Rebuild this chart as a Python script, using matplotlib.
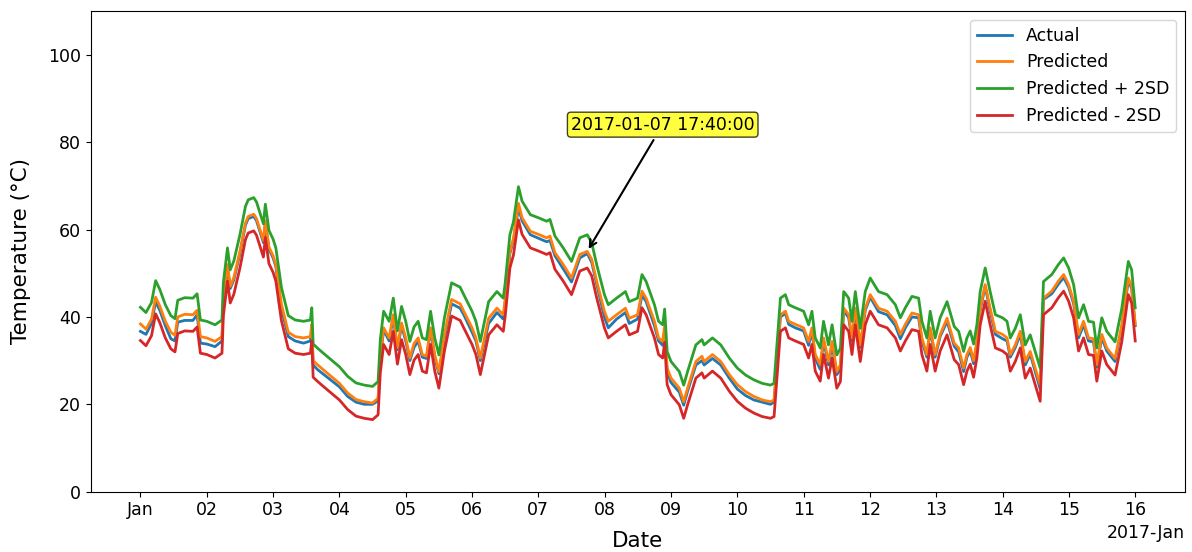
import pandas as pd
import matplotlib
matplotlib.use('Agg')
import matplotlib.pyplot as plt
import matplotlib.dates as mdates

# hours since 2017-01-01 00:00 at each reading
hours = [
    0, 2, 4, 5.5, 7, 9, 11, 12.5, 13.5, 16, 19, 20.5, 21.7,
    24, 27, 29.5, 30, 31.5, 32.5, 33.8, 36, 38, 39, 41, 42, 44.5, 45.2, 46.5,
    48, 49, 51, 53.5, 56, 59, 61.5, 62, 62.5, 64, 66, 69,
    72, 75, 78, 81, 84, 86, 86.8, 88, 90, 91.5, 93, 94.5,
    96, 97.5, 99, 100.5, 102, 103.5, 105, 106.5, 108, 110, 112.6, 115.7, 117,
    120, 121.4, 123, 126, 129, 131.3, 132, 133.7, 135, 136.8, 138.1, 141.1,
    144, 147, 148.2, 150, 153, 156, 159, 161.7, 163.3, 165.1, 167.9,
    169.3, 172.3, 175.5, 176.9, 179.9, 181.5, 183, 186, 187.5, 189, 189.7, 190.6,
    192, 195, 196.6, 198, 201, 203.2, 204, 207, 210, 213.1,
    216, 219, 222, 225, 228, 229.3, 231.6, 233.4, 234.6, 237,
    240, 241.8, 243, 244.2, 246, 247.2, 249, 250.3, 252, 253.3, 254.5, 256.3,
    257.5, 258.7, 260.5, 262.3, 264.1, 267.1, 270.2, 273.2, 275, 276.8, 279.2,
    281.6, 282.8, 284.6, 285.8, 287.6, 289.4, 291.9, 294.5, 296.1, 297.9,
    299.1, 300.3, 301.5, 302.7, 303.9, 305.7, 307.5, 309.4,
    312, 313.6, 314.8, 316.6, 318.4, 320.2, 322, 323.8, 325.6, 326.8, 329.8,
    332.2, 334.1, 335.9, 337.7, 339.5, 341.3, 343.1, 344.9, 346.1, 347.9,
    349.7, 352.7, 355.1, 357.5, 358.7, 360,
]

predicted = [
    38.4, 37.2, 39.5, 44.5, 42.5, 39.0, 36.5, 35.8, 40.0, 40.6, 40.5, 41.5, 35.5,
    35.2, 34.4, 35.5, 44.0, 52.0, 47.0, 49.0, 55.0, 61.5, 63.0, 63.5, 62.5, 57.5, 62.0, 56.0,
    54.0, 52.0, 43.0, 36.5, 35.5, 35.2, 35.5, 38.3, 30.0, 29.1, 28.0, 26.4,
    24.8, 22.6, 21.1, 20.6, 20.3, 21.4, 31.0, 37.5, 35.2, 40.5, 33.0, 38.6,
    35.2, 30.6, 33.9, 35.2, 31.4, 31.0, 37.5, 31.4, 27.5, 36.0, 44.0, 43.0, 41.3,
    37.5, 35.2, 30.6, 39.7, 42.0, 40.5, 44.0, 55.0, 58.0, 66.0, 62.7, 59.6,
    58.9, 58.1, 58.5, 54.7, 52.0, 48.9, 54.3, 55.0, 53.2, 48.2, 41.3,
    39.0, 40.5, 42.0, 39.7, 40.5, 45.9, 44.3, 39.0, 35.2, 34.4, 38.0, 28.3,
    26.0, 23.7, 20.6, 23.7, 29.8, 31.0, 29.8, 31.4, 29.8, 26.8,
    24.5, 22.9, 21.8, 21.0, 20.6, 21.0, 40.5, 41.3, 39.0, 38.3,
    37.5, 34.4, 37.5, 31.4, 29.1, 35.2, 29.8, 34.4, 27.5, 29.0, 42.0, 40.5,
    35.2, 42.0, 33.6, 42.0, 45.1, 42.0, 41.3, 39.0, 36.0, 38.3, 40.9,
    40.5, 35.2, 31.4, 37.5, 31.4, 36.0, 39.7, 34.0, 32.9, 28.3,
    31.4, 33.0, 30.0, 34.4, 42.0, 47.4, 42.0, 36.7,
    36.0, 35.2, 31.4, 33.6, 36.7, 29.8, 32.1, 28.3, 24.5, 44.3, 45.9,
    48.2, 49.7, 47.4, 43.6, 36.0, 39.0, 35.2, 35.0, 29.1, 36.0,
    32.9, 30.5, 38.0, 48.9, 47.0, 38.3,
]

actual = [
    36.7, 36.0, 38.5, 43.5, 41.5, 38.0, 35.0, 34.5, 38.8, 39.2, 39.2, 40.5, 34.0,
    33.8, 33.2, 34.5, 43.5, 51.5, 46.5, 48.5, 54.5, 61.0, 62.5, 63.0, 62.0, 57.0, 61.5, 55.5,
    53.5, 51.5, 42.0, 35.5, 34.5, 34.0, 34.5, 37.5, 29.0, 28.0, 27.0, 25.5,
    24.0, 21.8, 20.5, 20.0, 20.0, 20.8, 30.5, 37.0, 34.5, 40.0, 32.5, 38.0,
    34.5, 30.0, 33.0, 34.5, 30.8, 30.5, 37.0, 30.8, 27.0, 35.0, 43.0, 42.0, 40.5,
    36.5, 34.5, 30.0, 38.5, 41.0, 39.5, 43.5, 54.5, 57.5, 65.0, 62.0, 58.8,
    58.0, 57.2, 57.5, 54.0, 51.0, 48.0, 53.5, 54.5, 52.5, 47.5, 40.0,
    37.5, 39.5, 41.0, 38.5, 39.5, 45.0, 43.5, 38.0, 34.5, 33.5, 37.0, 27.5,
    25.0, 22.8, 19.8, 23.0, 29.0, 30.0, 29.0, 30.5, 29.0, 26.0,
    23.5, 22.0, 21.0, 20.5, 20.0, 20.5, 40.0, 40.8, 38.3, 37.5,
    36.8, 33.5, 36.8, 30.5, 28.0, 34.5, 29.0, 33.5, 26.8, 28.0, 41.5, 39.8,
    34.5, 41.5, 33.0, 41.5, 44.5, 41.2, 40.5, 38.0, 35.0, 37.5, 40.0,
    39.8, 34.5, 30.8, 37.0, 30.8, 35.5, 39.0, 33.3, 32.0, 27.5,
    30.8, 32.3, 29.3, 33.8, 41.5, 47.0, 41.3, 36.0,
    35.0, 34.5, 30.8, 33.0, 36.0, 29.0, 31.5, 27.5, 23.5, 44.0, 45.3,
    47.5, 49.0, 46.8, 43.0, 35.2, 38.2, 34.5, 34.3, 28.5, 35.3,
    32.2, 29.8, 37.5, 48.3, 46.5, 38.0,
]

# width of the 2SD band around the prediction
two_sd = 3.8

times = pd.Timestamp('2017-01-01') + pd.to_timedelta(hours, unit='h')
pred = pd.Series(predicted, index=times)

fig = plt.figure(figsize=(11.92, 5.52), dpi=100)
ax = fig.add_axes([0.0761, 0.1092, 0.9180, 0.8708])

ax.plot(times, actual, color='C0', lw=2, label='Actual')
ax.plot(times, pred, color='C1', lw=2, label='Predicted')
ax.plot(times, pred + two_sd, color='C2', lw=2, label='Predicted + 2SD')
ax.plot(times, pred - two_sd, color='C3', lw=2, label='Predicted - 2SD')

locator = mdates.DayLocator()
ax.xaxis.set_major_locator(locator)
ax.xaxis.set_major_formatter(mdates.ConciseDateFormatter(locator))
ax.tick_params(labelsize=12.5)
ax.xaxis.get_offset_text().set_fontsize(12.5)

ax.set_ylim(0, 110)
ax.set_ylabel('Temperature (°C)', fontsize=15.5, labelpad=12)
ax.set_xlabel('Date', fontsize=15.5, labelpad=8)

stamp = pd.Timestamp('2017-01-07 17:40:00')
ax.annotate(str(stamp), xy=(stamp, 55.0),
            xytext=(pd.Timestamp('2017-01-08 21:00'), 84),
            ha='center', va='center', fontsize=12.5,
            bbox=dict(boxstyle='round,pad=0.2', fc='yellow', alpha=0.75),
            arrowprops=dict(arrowstyle='->', color='black', lw=1.5))

ax.legend(loc='upper right', fontsize=12.5)

plt.savefig('out.png', dpi=100)
plt.close()
